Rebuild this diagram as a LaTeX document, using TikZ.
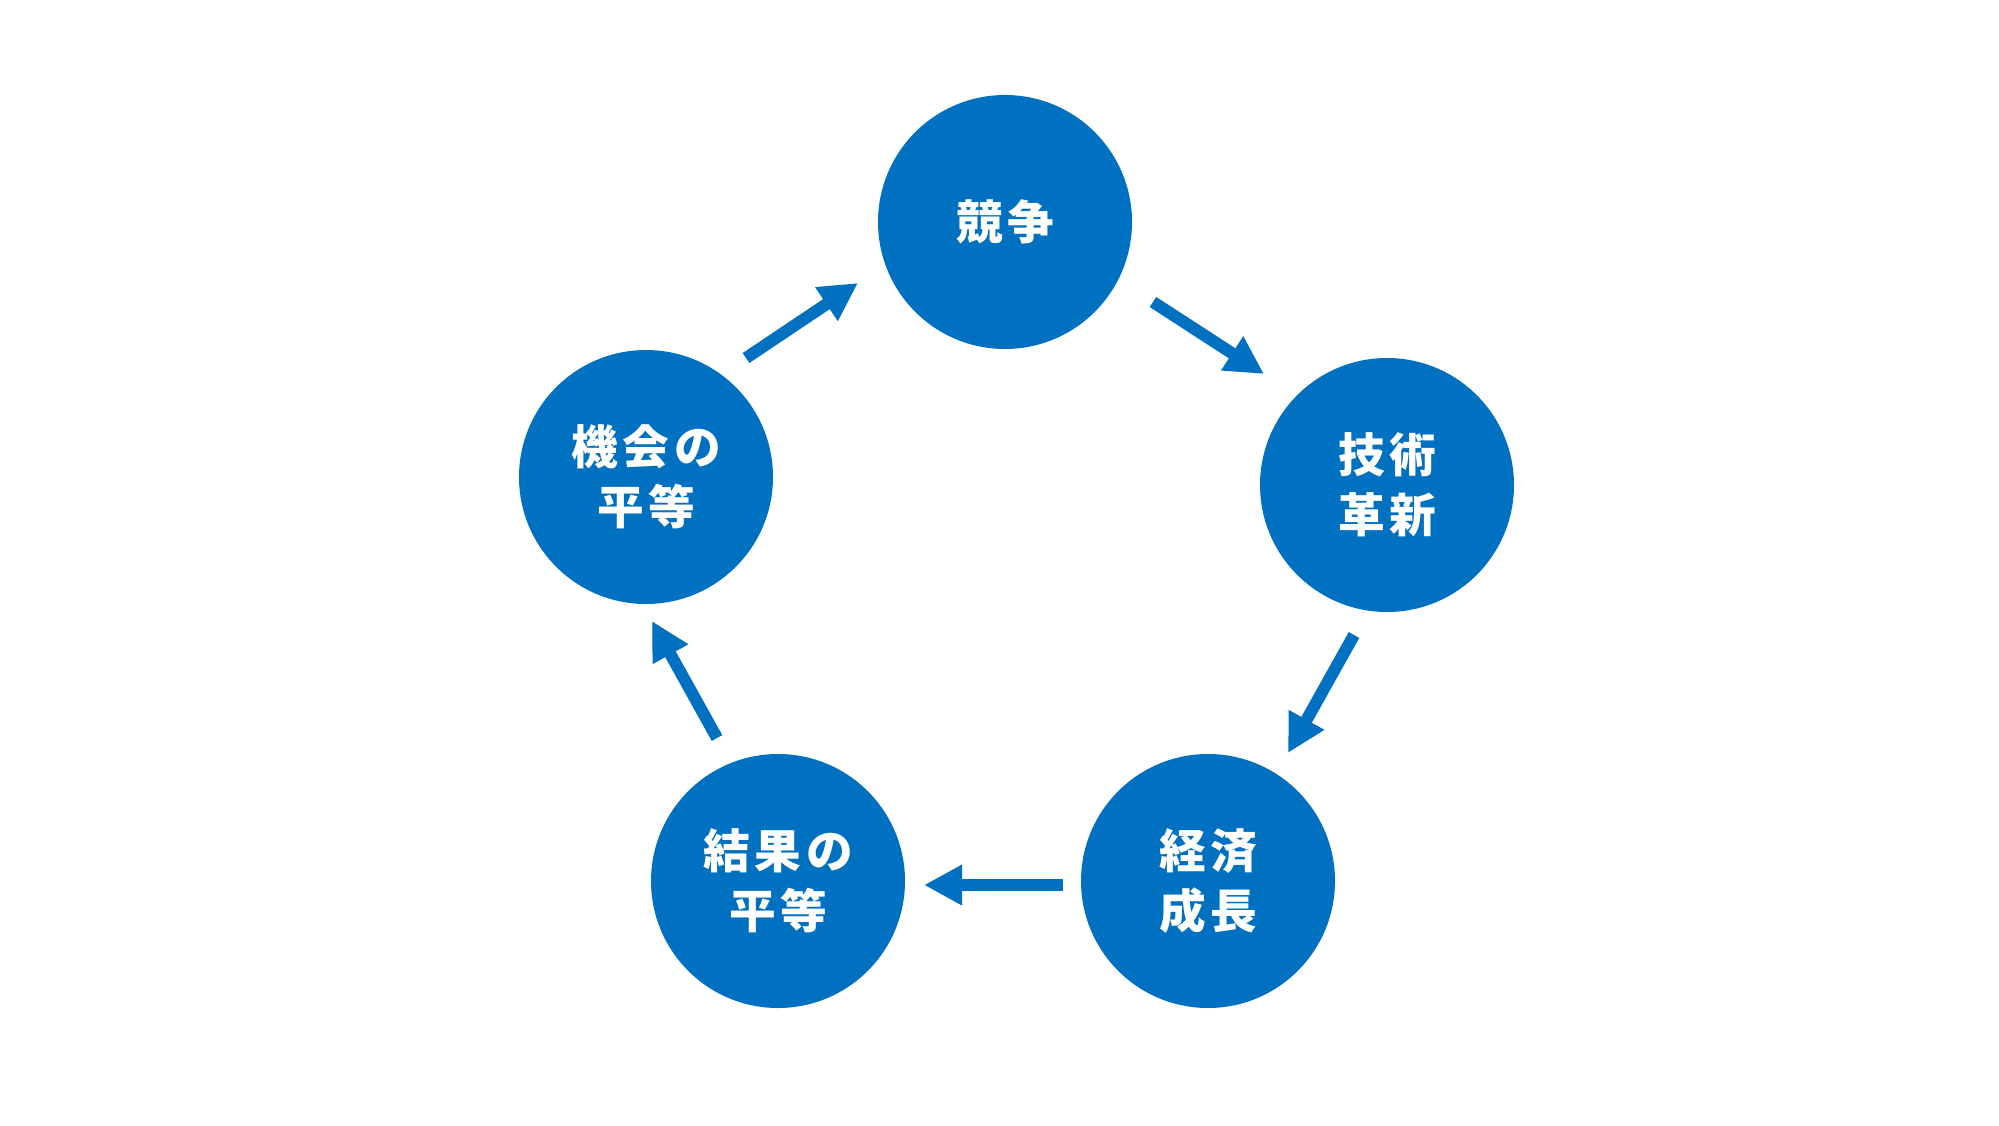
\documentclass[tikz,border=0pt]{standalone}
\usepackage{fontspec}
\newfontfamily\jp[LetterSpace=10]{Noto Sans CJK JP}
\usetikzlibrary{arrows.meta}
\definecolor{cblue}{HTML}{0070C0}
\begin{document}
\begin{tikzpicture}[x=0.75pt,y=-0.75pt,
  bubble/.style={circle,fill=cblue,draw=none,minimum size=190.5pt,inner sep=0pt,
    text=white,align=center,font=\jp\bfseries\fontsize{35}{45}\selectfont},
  arr/.style={draw=cblue,line width=9pt,-{Triangle[length=28.5pt,width=28.5pt]}}]
\useasboundingbox (0,0) rectangle (1999,1125);
\node[bubble] (kyo) at (1005,222) {競争};
\node[bubble] (gi)  at (1387,485) {技術\\革新};
\node[bubble] (kei) at (1208,881) {経済\\成長};
\node[bubble] (ke)  at (778,881)  {結果の\\平等};
\node[bubble] (ki)  at (646,477)  {機会の\\平等};
\draw[arr] ([shift={(100,-119)}]ki.center) -- ([shift={(-147,61)}]kyo.center);
\draw[arr] ([shift={(148,80)}]kyo.center) -- ([shift={(-123,-111)}]gi.center);
\draw[arr] ([shift={(-33,150)}]gi.center) -- ([shift={(80,-128)}]kei.center);
\draw[arr] ([shift={(-145,4)}]kei.center) -- ([shift={(146,4)}]ke.center);
\draw[arr] ([shift={(-61,-143)}]ke.center) -- ([shift={(6,144)}]ki.center);
\end{tikzpicture}
\end{document}
